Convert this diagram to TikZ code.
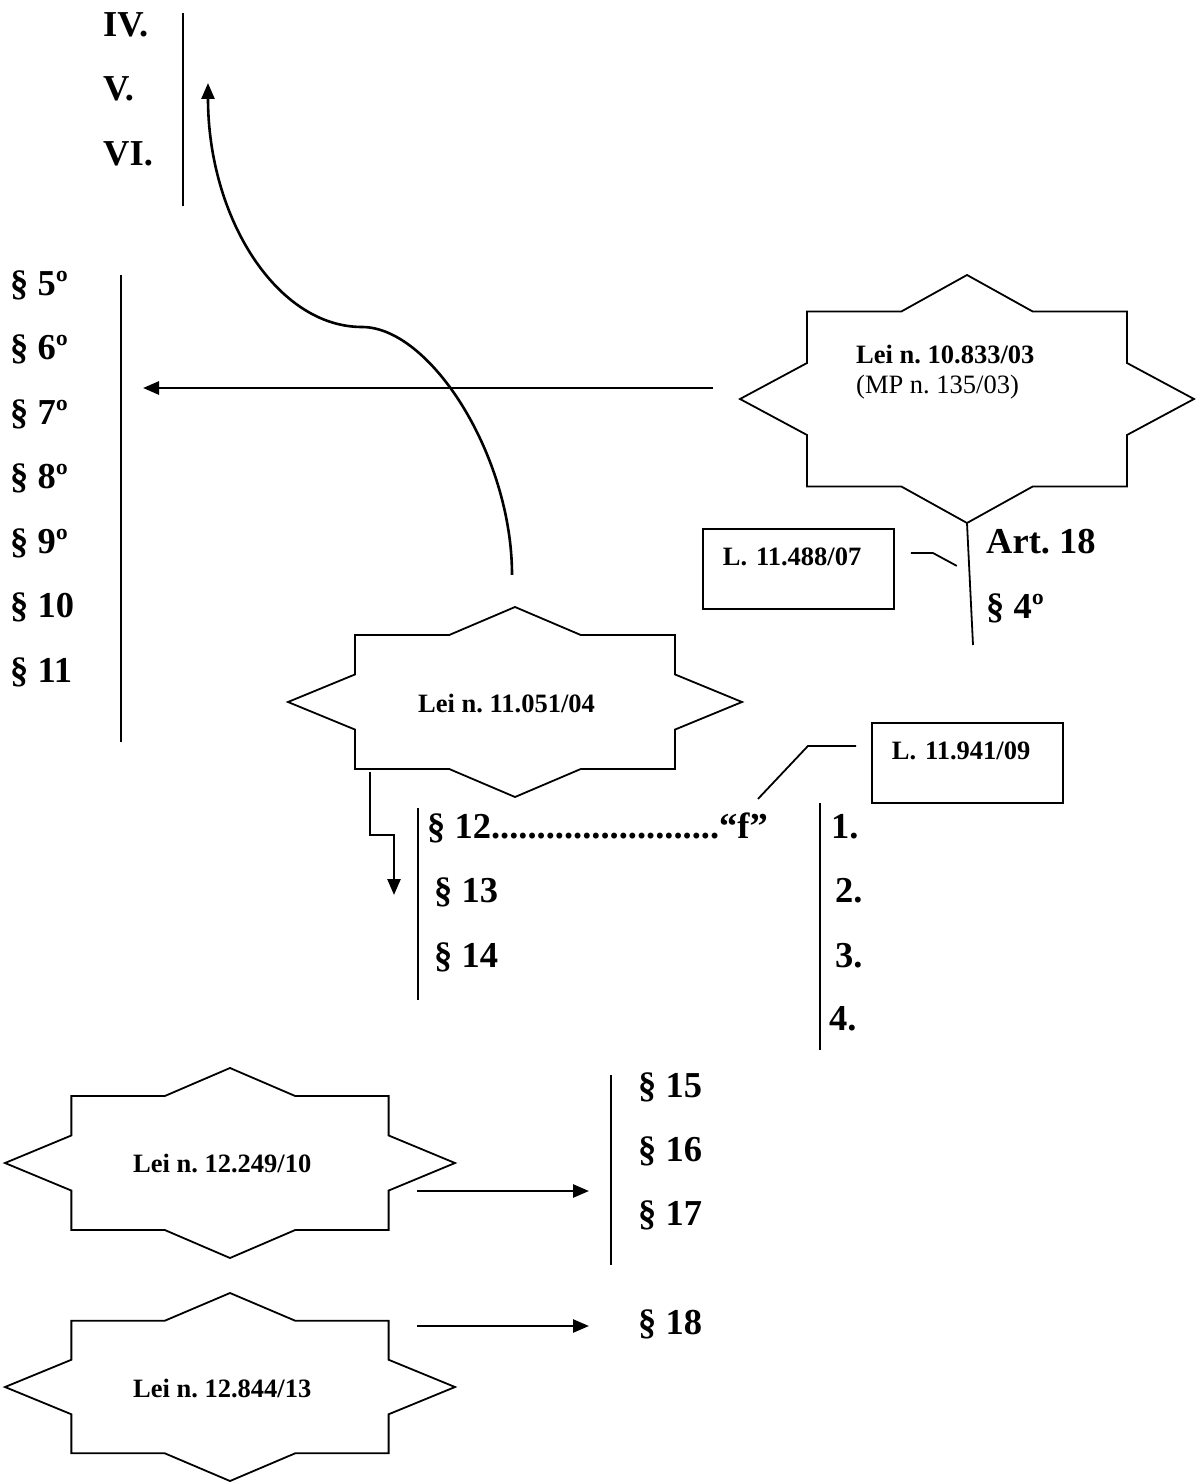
\documentclass[tikz,border=0pt]{standalone}
\usepackage{fontspec}
\setmainfont{Liberation Serif}
\usetikzlibrary{arrows.meta,calc}
\frenchspacing
\tikzset{
  starframe/.style={inner sep=0pt,draw=none},
  starline/.style={draw,line width=1.8pt,line join=miter},
  startext/.style={inner sep=0pt,align=left,font=\fontsize{26.5}{30}\selectfont},
  parlabel/.style={anchor=base west,inner sep=0pt,font=\fontsize{36.5}{44}\selectfont\bfseries},
  listbar/.style={line width=1.8pt},
  lawbox/.style={draw,line width=1.8pt,anchor=north west,inner xsep=20pt,inner ysep=19pt,text width=151pt,align=left,text height=18pt,text depth=24pt,font=\fontsize{26.5}{30}\selectfont\bfseries},
  pointer/.style={line width=1.8pt},
  flow/.style={-{Triangle[length=16pt,width=13pt]},line width=2.6pt}
}

\begin{document}
\begin{tikzpicture}[x=1pt,y=-1pt]
\useasboundingbox (0,0) rectangle (1195,1482);
% the four laws, drawn as eight-point stars
\foreach \nm/\cx/\cy/\hw/\hh in {law10833/967/399/227/124,law11051/515/702/227/95,law12249/230/1163/225/95,law12844/230/1387/225/94}{
  \node[starframe,minimum width=2*\hw*1pt,minimum height=2*\hh*1pt] (\nm) at (\cx,\cy) {};
  \draw[starline,shift={(\nm.center)},xscale=\hw,yscale=\hh]
    (0,-1) -- (.29,-.705) -- (.705,-.705) -- (.705,-.29) -- (1,0) -- (.705,.29) -- (.705,.705) -- (.29,.705)
    -- (0,1) -- (-.29,.705) -- (-.705,.705) -- (-.705,.29) -- (-1,0) -- (-.705,-.29) -- (-.705,-.705) -- (-.29,-.705) -- cycle;
}
\node[startext,anchor=north west] (lab10833) at (856,345) {\textbf{Lei n. 10.833/03}\\(MP n. 135/03)};
\node[startext,anchor=base west] (lab11051) at (418,712) {\textbf{Lei n. 11.051/04}};
\node[startext,anchor=base west] (lab12249) at (133,1172) {\textbf{Lei n. 12.249/10}};
\node[startext,anchor=base west] (lab12844) at (133,1397) {\textbf{Lei n. 12.844/13}};

% incisos
\node[parlabel] (iv) at (103,37) {IV.};
\node[parlabel] (v) at (103,101) {V.};
\node[parlabel] (vi) at (103,166) {VI.};
\draw[listbar] (183,13) -- (183,206);

% paragrafos 5 a 11
\foreach \lab [count=\i from 0] in {5º,6º,7º,8º,9º,10,11}
  \node[parlabel] (sec\i) at (10,{295+64.5*\i}) {§ \lab};
\draw[listbar] (121,275) -- (121,742);

% art. 18
\draw[listbar] (law10833.south) -- (973,645);
\node[parlabel] (art18) at (986,553) {Art. 18};
\node[parlabel] (art18p4) at (986,618) {§ 4º};
\node[lawbox] (box11488) at (702,528) {L. 11.488/07};
\draw[pointer] ($(box11488.east)+(16,-16)$) -- ++(22,0) -- ++(24,13);

% paragrafos 12 a 14
\node[parlabel] (sec12) at (427,838) {§ 12.........................“f”};
\node[parlabel] (sec13) at (434,902) {§ 13};
\node[parlabel] (sec14) at (434,967) {§ 14};
\draw[listbar] (418,808) -- (418,1000);
\draw[flow] ($(law11051.center)+(-145,70)$) -- ++(0,63) -- ++(24,0) -- ++(0,60);

% itens 1 a 4
\node[lawbox] (box11941) at (871,722) {L. 11.941/09};
\draw[pointer] ($(box11941.west)+(-15,-17)$) -- ++(-48,0) -- ++(-50,53);
\node[parlabel] (n1) at (831,838) {1.};
\node[parlabel] (n2) at (835,902) {2.};
\node[parlabel] (n3) at (835,967) {3.};
\node[parlabel] (n4) at (829,1030) {4.};
\draw[listbar] (820,803) -- (820,1050);

% paragrafos 15 a 18
\foreach \lab [count=\i from 0] in {15,16,17}
  \node[parlabel] (sec\lab) at (638,{1097+64*\i}) {§ \lab};
\draw[listbar] (611,1075) -- (611,1265);
\node[parlabel] (sec18) at (638,1334) {§ 18};

% arrows
\coordinate (to7) at (143,388);
\draw[flow] ($(law10833.west)+(-27,-11)$) -- (to7);
\coordinate (to15) at (589,1191);
\draw[flow] ($(law12249.east)+(-38,28)$) -- (to15);
\coordinate (to18) at (589,1326);
\draw[flow] ($(law12844.east)+(-38,-61)$) -- (to18);
\coordinate (bend) at (362,327);
\coordinate (toV) at (208,83);
\draw[flow] ($(law11051.north)+(-3,-32)$) .. controls (512,455) and (430,327) .. (bend)
  .. controls (277,327) and (208,218) .. (toV);
\end{tikzpicture}
\end{document}
